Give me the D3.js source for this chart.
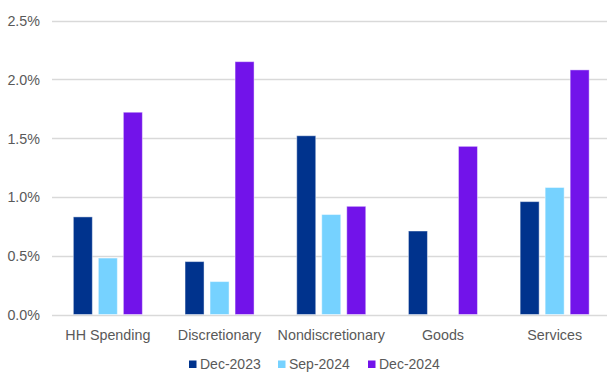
<!DOCTYPE html>
<html>
<head>
<meta charset="utf-8">
<script src="https://cdn.jsdelivr.net/npm/d3@7"></script>
<style>
  html, body { margin: 0; padding: 0; background: #fff; }
  svg { display: block; }
  text { font-family: "Liberation Sans", Arial, sans-serif; fill: #595959; }
</style>
</head>
<body>
<svg id="chart" width="607" height="372"></svg>
<script>
// Spending categories and the three periods compared
const categories = ["HH Spending", "Discretionary", "Nondiscretionary", "Goods", "Services"];
const seriesNames = ["Dec-2023", "Sep-2024", "Dec-2024"];
const seriesColors = ["#00338D", "#76D2FF", "#7213EA"];

// Values in percent; Goods has no Sep-2024 value
const dec2023 = [0.83, 0.45, 1.52, 0.71, 0.96];
const sep2024 = [0.48, 0.28, 0.85, null, 1.08];
const dec2024 = [1.72, 2.15, 0.92, 1.43, 2.08];

const yTicks = [0, 0.5, 1.0, 1.5, 2.0, 2.5];

const seriesValues = [dec2023, sep2024, dec2024];

const svg = d3.select("#chart");
const plotTop = 20.5, plotBottom = 314.5, plotLeft = 52, plotRight = 610.5;

const x0 = d3.scaleBand()
  .domain(categories)
  .range([plotLeft, plotRight])
  .paddingInner(0.382)
  .paddingOuter(0.191);

const x1 = d3.scaleBand()
  .domain(seriesNames)
  .range([0, x0.bandwidth()])
  .paddingInner(0.24)
  .paddingOuter(0);

const y = d3.scaleLinear().domain([0, 2.5]).range([plotBottom, plotTop]);

const color = d3.scaleOrdinal().domain(seriesNames).range(seriesColors);

// Horizontal gridlines
svg.append("g")
  .selectAll("line")
  .data(yTicks)
  .join("line")
  .attr("x1", plotLeft)
  .attr("x2", 607)
  .attr("y1", d => Math.round(y(d)) + 0.5)
  .attr("y2", d => Math.round(y(d)) + 0.5)
  .attr("stroke", "#d9d9d9")
  .attr("stroke-width", 1.3);

// Y axis labels
svg.append("g")
  .selectAll("text")
  .data(yTicks)
  .join("text")
  .attr("x", 40)
  .attr("y", d => y(d) + 5.5)
  .attr("text-anchor", "end")
  .style("font-size", "14.3px")
  .text(d => d3.format(".1f")(d) + "%");

// Bars
const rows = categories.map((c, i) => ({
  category: c,
  values: seriesNames.map((s, j) => ({ series: s, value: seriesValues[j][i] }))
}));

svg.append("g")
  .selectAll("g")
  .data(rows)
  .join("g")
  .attr("transform", d => `translate(${x0(d.category)},0)`)
  .selectAll("rect")
  .data(d => d.values.filter(v => v.value != null))
  .join("rect")
  .attr("x", d => x1(d.series))
  .attr("y", d => y(d.value))
  .attr("width", x1.bandwidth())
  .attr("height", d => y(0) - y(d.value))
  .attr("fill", d => color(d.series))
  .attr("stroke", "rgba(255,255,255,0.45)")
  .attr("stroke-width", 1);

// Category labels
svg.append("g")
  .selectAll("text")
  .data(categories)
  .join("text")
  .attr("x", d => x0(d) + x0.bandwidth() / 2)
  .attr("y", 339.5)
  .attr("text-anchor", "middle")
  .style("font-size", "14.3px")
  .text(d => d);

// Legend
const legendX = [189, 278, 368];
const legend = svg.append("g")
  .selectAll("g")
  .data(seriesNames)
  .join("g")
  .attr("transform", (d, i) => `translate(${legendX[i]},0)`);

legend.append("rect")
  .attr("x", 0)
  .attr("y", 360.5)
  .attr("width", 7.5)
  .attr("height", 7.5)
  .attr("fill", d => color(d));

legend.append("text")
  .attr("x", 11)
  .attr("y", 368.6)
  .style("font-size", "14px")
  .text(d => d);
</script>
</body>
</html>
